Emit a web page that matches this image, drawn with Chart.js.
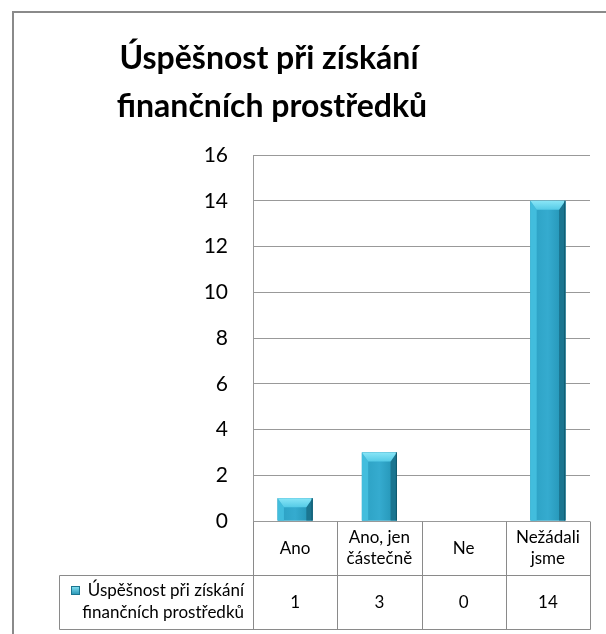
<!DOCTYPE html>
<html>
<head>
<meta charset="utf-8">
<script src="https://cdn.jsdelivr.net/npm/chart.js@4/dist/chart.umd.min.js"></script>
<style>
  html, body { margin: 0; padding: 0; background: #ffffff; overflow: hidden; }
  #wrap { position: relative; width: 606px; height: 634px; }
</style>
</head>
<body>
<div id="wrap"><canvas id="c" width="606" height="634"></canvas></div>
<script>
// ---- data ----
const titleLines = ['Úspěšnost při získání', 'finančních prostředků'];
const categories = [['Ano'], ['Ano, jen', 'částečně'], ['Ne'], ['Nežádali', 'jsme']];
const seriesName = ['Úspěšnost při získání', 'finančních prostředků'];
const values = [1, 3, 0, 14];
const yTicks = [0, 2, 4, 6, 8, 10, 12, 14, 16];

const FONT = 'Lato, "Open Sans", sans-serif';
const GRID = '#999999';
const BORDER = '#8a8a8a';

const framePlugin = {
  id: 'frame',
  beforeDraw(chart) {
    const ctx = chart.ctx;
    ctx.save();
    ctx.fillStyle = '#ffffff';
    ctx.fillRect(0, 0, chart.width, chart.height);
    ctx.strokeStyle = BORDER;
    ctx.lineWidth = 2;
    ctx.beginPath();
    ctx.moveTo(13, chart.height + 2);
    ctx.lineTo(13, 12);
    ctx.lineTo(chart.width + 2, 12);
    ctx.stroke();
    // title
    ctx.fillStyle = '#000000';
    ctx.font = 'bold 32px ' + FONT;
    ctx.textAlign = 'center';
    ctx.textBaseline = 'alphabetic';
    ctx.fillText(titleLines[0], 269, 69);
    ctx.fillText(titleLines[1], 272, 117);
    ctx.restore();
  },
  afterDatasetsDraw(chart) {
    // bevel shading of the bars (uses the library's bar elements)
    const ctx = chart.ctx;
    const meta = chart.getDatasetMeta(0);
    ctx.save();
    meta.data.forEach((bar) => {
      const p = bar.getProps(['x', 'y', 'base', 'width'], true);
      const h = p.base - p.y;
      if (h <= 0.5) return;
      const l = p.x - p.width / 2, r = p.x + p.width / 2, t = p.y, b = p.base;
      const g = ctx.createLinearGradient(l, 0, r, 0);
      g.addColorStop(0, '#2ba0c2');
      g.addColorStop(0.5, '#35abcf');
      g.addColorStop(1, '#2190b1');
      ctx.fillStyle = g;
      ctx.fillRect(l, t, r - l, h);
      const bev = Math.min(9, h / 2);
      // left strip
      ctx.fillStyle = '#42bddd';
      ctx.beginPath();
      ctx.moveTo(l, t); ctx.lineTo(l + bev * 0.7, t + bev); ctx.lineTo(l + bev * 0.7, b); ctx.lineTo(l, b); ctx.closePath(); ctx.fill();
      // right strip
      ctx.fillStyle = '#1b7590';
      ctx.beginPath();
      ctx.moveTo(r, t); ctx.lineTo(r - bev * 0.7, t + bev); ctx.lineTo(r - bev * 0.7, b); ctx.lineTo(r, b); ctx.closePath(); ctx.fill();
      // top face
      const tg = ctx.createLinearGradient(0, t, 0, t + bev);
      tg.addColorStop(0, '#8ae6f7');
      tg.addColorStop(1, '#55cbe7');
      ctx.fillStyle = tg;
      ctx.beginPath();
      ctx.moveTo(l, t); ctx.lineTo(r, t); ctx.lineTo(r - bev * 0.7, t + bev); ctx.lineTo(l + bev * 0.7, t + bev); ctx.closePath(); ctx.fill();
      // dark right edge
      ctx.strokeStyle = '#0f5468';
      ctx.lineWidth = 1;
      ctx.beginPath();
      ctx.moveTo(r - 0.5, t); ctx.lineTo(r - 0.5, b);
      ctx.stroke();
    });
    ctx.restore();
  },
  afterDraw(chart) {
    const ctx = chart.ctx;
    const xs = chart.scales.x;
    const area = chart.chartArea;
    const n = categories.length;
    const half = (xs.getPixelForValue(1) - xs.getPixelForValue(0)) / 2;
    const top = Math.round(area.bottom) + 0.5;
    const rowH = 54;
    const mid = top + rowH;
    const bot = top + 2 * rowH;
    const legLeft = 59.5;
    ctx.save();
    ctx.strokeStyle = BORDER;
    ctx.lineWidth = 1;
    ctx.beginPath();
    // vertical separators
    for (let i = 0; i <= n; i++) {
      const x = Math.round(i < n ? xs.getPixelForValue(i) - half : xs.getPixelForValue(n - 1) + half) + 0.5;
      ctx.moveTo(x, top);
      ctx.lineTo(x, bot);
    }
    const rightX = Math.round(xs.getPixelForValue(n - 1) + half) + 0.5;
    ctx.moveTo(legLeft, mid); ctx.lineTo(rightX, mid);
    ctx.moveTo(legLeft, bot); ctx.lineTo(rightX, bot);
    ctx.moveTo(legLeft, mid); ctx.lineTo(legLeft, bot);
    ctx.stroke();

    ctx.fillStyle = '#000000';
    ctx.font = '17px ' + FONT;
    ctx.textAlign = 'center';
    ctx.textBaseline = 'middle';
    categories.forEach((lines, i) => {
      const cx = xs.getPixelForValue(i);
      const cy = top + rowH / 2;
      const lh = 21;
      lines.forEach((ln, k) => {
        ctx.fillText(ln, cx, cy + (k - (lines.length - 1) / 2) * lh);
      });
      ctx.fillText(String(values[i]), cx, mid + rowH / 2);
    });
    // legend cell
    ctx.textAlign = 'right';
    ctx.fillText(seriesName[0], 244, mid + 15);
    ctx.fillText(seriesName[1], 244, mid + 37);
    const w0 = ctx.measureText(seriesName[0]).width;
    const mx = Math.round(244 - w0 - 17);
    const my = Math.round(mid + 10);
    const mg = ctx.createLinearGradient(mx, my, mx, my + 9);
    mg.addColorStop(0, '#8ae6f7');
    mg.addColorStop(1, '#2190b1');
    ctx.fillStyle = mg;
    ctx.fillRect(mx, my, 9, 9);
    ctx.strokeStyle = '#1b7590';
    ctx.strokeRect(mx + 0.5, my + 0.5, 8, 8);
    ctx.restore();
  }
};

new Chart(document.getElementById('c'), {
  type: 'bar',
  data: {
    labels: categories,
    datasets: [{
      label: seriesName.join(' '),
      data: values,
      backgroundColor: '#2ea3c3',
      borderWidth: 0,
      categoryPercentage: 1.0,
      barPercentage: 0.415
    }]
  },
  options: {
    responsive: false,
    animation: false,
    devicePixelRatio: 1,
    layout: { padding: { left: 0, right: 16, top: 155, bottom: 113 } },
    plugins: { legend: { display: false }, title: { display: false }, tooltip: { enabled: false } },
    scales: {
      x: { display: false },
      y: {
        min: 0, max: 16,
        afterFit(scale) { scale.width = 253; },
        afterBuildTicks(scale) { scale.ticks = yTicks.map(v => ({ value: v })); },
        grid: { color: GRID, lineWidth: 1, drawTicks: false },
        border: { display: true, color: GRID, width: 1 },
        ticks: { color: '#000000', font: { family: FONT, size: 21 }, padding: 25 }
      }
    }
  },
  plugins: [framePlugin]
});
</script>
</body>
</html>
